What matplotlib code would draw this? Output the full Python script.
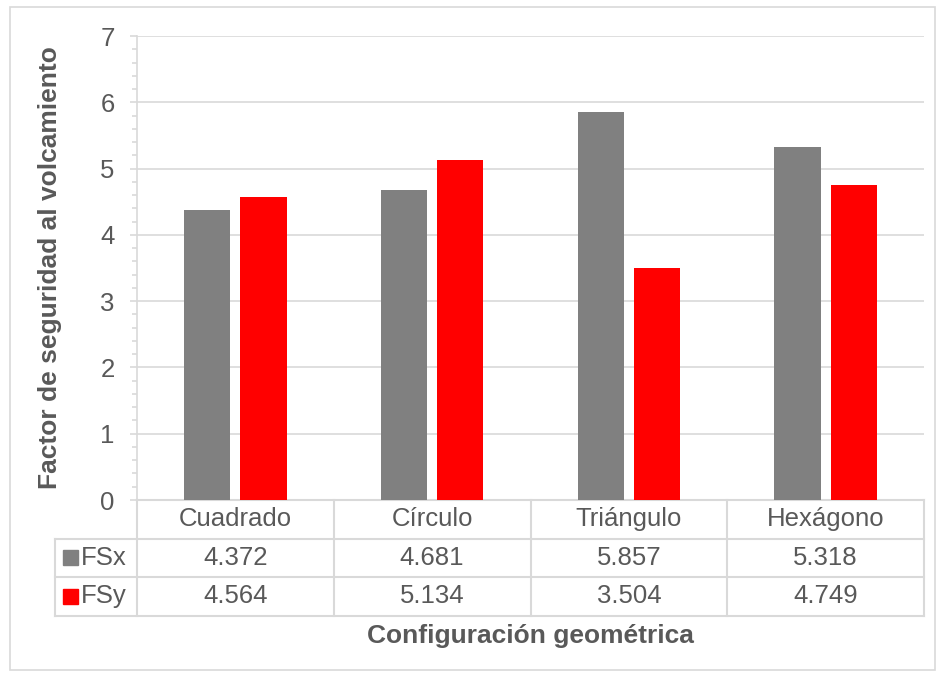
import numpy as np
import matplotlib.pyplot as plt
import matplotlib.transforms as mtransforms
from matplotlib.patches import Rectangle

# Datos
categorias = ["Cuadrado", "Círculo", "Triángulo", "Hexágono"]
fsx = [4.372, 4.681, 5.857, 5.318]
fsy = [4.564, 5.134, 3.504, 4.749]
series = ["FSx", "FSy"]
colores = ["#808080", "#FF0000"]

plt.rcParams['font.family'] = ['Liberation Sans', 'DejaVu Sans']
txt_color = "#595959"
grid_color = "#D9D9D9"
fs = 18.5
fs_lab = 19

W, H = 943, 677
fig = plt.figure(figsize=(W / 100, H / 100), dpi=100)

# borde exterior del gráfico
fig.patches.append(Rectangle((10 / W, 7 / H), 925 / W, 663 / H, transform=fig.transFigure,
                             fill=False, edgecolor=grid_color, lw=1.2))

ax = fig.add_axes([137 / W, 177 / H, 787 / W, 464 / H])
x = np.arange(len(categorias))
bw = 0.235
sep = 0.05
ax.bar(x - (bw + sep) / 2, fsx, bw, color=colores[0], zorder=3)
ax.bar(x + (bw + sep) / 2, fsy, bw, color=colores[1], zorder=3)

ax.set_xlim(-0.5, len(categorias) - 0.5)
ax.set_ylim(0, 7)
ax.set_yticks(range(0, 8))
ax.set_yticks(np.arange(0, 7.01, 0.2), minor=True)
ax.yaxis.grid(True, color=grid_color, lw=1.2, zorder=0)
ax.tick_params(axis='y', which='major', length=5, width=1.2, color=grid_color,
               labelsize=fs, labelcolor=txt_color, pad=11)
ax.tick_params(axis='y', which='minor', length=3.5, width=1.2, color=grid_color)
ax.set_xticks([])
for s in ["top", "right"]:
    ax.spines[s].set_visible(False)
ax.spines["left"].set_color(grid_color)
ax.spines["left"].set_linewidth(1.2)
ax.spines["bottom"].set_color(grid_color)
ax.spines["bottom"].set_linewidth(1.2)

ax.set_ylabel("Factor de seguridad al volcamiento", fontsize=fs_lab, fontweight="bold",
              color=txt_color, labelpad=28)

# Tabla de datos bajo el eje
trans = mtransforms.blended_transform_factory(ax.transData, ax.transAxes)
rh = 38.5 / 464
left_col = -0.5 - 82 / 196.75
right = len(categorias) - 0.5
kw = dict(color=grid_color, lw=1.5, transform=trans, clip_on=False)
# horizontales
ax.plot([-0.5, right], [0, 0], **kw)
for k in range(1, 4):
    ax.plot([left_col, right], [-k * rh, -k * rh], **kw)
# verticales
for xb in np.arange(-0.5, right + 0.01, 1.0):
    ax.plot([xb, xb], [0, -3 * rh], **kw)
ax.plot([left_col, left_col], [-rh, -3 * rh], **kw)

for i, cat in enumerate(categorias):
    ax.text(i, -0.5 * rh, cat, ha="center", va="center", fontsize=fs, color=txt_color, transform=trans)
    ax.text(i, -1.5 * rh, f"{fsx[i]:.3f}", ha="center", va="center", fontsize=fs, color=txt_color, transform=trans)
    ax.text(i, -2.5 * rh, f"{fsy[i]:.3f}", ha="center", va="center", fontsize=fs, color=txt_color, transform=trans)

for k, (nombre, col) in enumerate(zip(series, colores)):
    yc = -(1.5 + k) * rh
    sq = 15 / 464
    ax.add_patch(Rectangle((left_col + 8 / 196.75, yc - sq / 2), 15 / 196.75, sq,
                           color=col, transform=trans, clip_on=False))
    ax.text(left_col + 26 / 196.75, yc, nombre, ha="left", va="center", fontsize=fs,
            color=txt_color, transform=trans)

fig.text(530 / W, 1 - 636 / H, "Configuración geométrica", ha="center", va="center",
         fontsize=fs_lab, fontweight="bold", color=txt_color)

fig.savefig("out.png", dpi=100)
